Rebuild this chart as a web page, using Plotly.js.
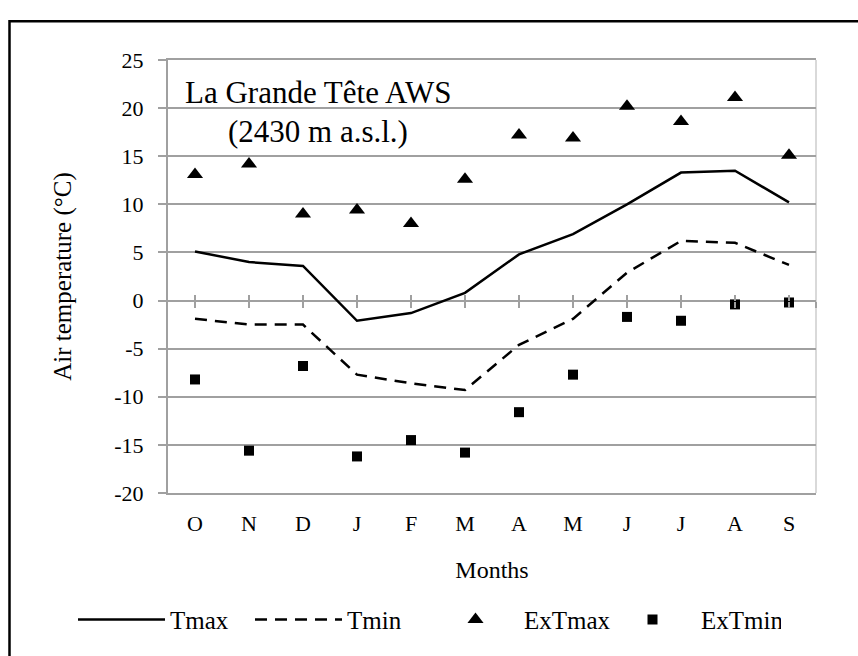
<!DOCTYPE html>
<html>
<head>
<meta charset="utf-8">
<script src="https://cdn.plot.ly/plotly-3.0.1.min.js"></script>
<style>
  html, body { margin: 0; padding: 0; background: #ffffff; }
  #chart { width: 858px; height: 656px; }
</style>
</head>
<body>
<div id="chart"></div>
<script>
// ---- data ----
var months = ['O', 'N', 'D', 'J', 'F', 'M', 'A', 'M', 'J', 'J', 'A', 'S'];
var tmax   = [5.1, 4.0, 3.6, -2.1, -1.3, 0.8, 4.8, 6.9, 10.0, 13.3, 13.5, 10.2];
var tmin   = [-1.9, -2.5, -2.5, -7.7, -8.6, -9.3, -4.6, -1.9, 2.9, 6.2, 6.0, 3.7];
var exTmax = [13.1, 14.2, 9.0, 9.4, 8.0, 12.6, 17.2, 16.9, 20.2, 18.6, 21.1, 15.1];
var exTmin = [-8.2, -15.6, -6.8, -16.2, -14.5, -15.8, -11.6, -7.7, -1.7, -2.1, -0.4, -0.2];
var yTickVals = [-20, -15, -10, -5, 0, 5, 10, 15, 20, 25];
var yTickText = ['-20', '-15', '-10', '-5', '0', '5', '10', '15', '20', '25'];
var stationName = 'La Grande Tête AWS';
var stationAlt = '(2430 m a.s.l.)';

// ---- derived ----
var xIdx = months.map(function (m, i) { return i; });
var xRange = [-0.5, months.length - 0.5];
var crossTicks = xIdx.concat([months.length - 0.5]);

var FONT = '"Liberation Serif", "Times New Roman", serif';
var GRID = '#a0a0a0';

var traces = [
  { x: xIdx, y: tmax, name: 'Tmax', type: 'scatter', mode: 'lines',
    line: { color: '#000000', width: 2.5 } },
  { x: xIdx, y: tmin, name: 'Tmin', type: 'scatter', mode: 'lines',
    line: { color: '#000000', width: 2.5, dash: '12px,8px' } },
  { x: xIdx, y: exTmax, name: 'ExTmax', type: 'scatter', mode: 'markers',
    marker: { symbol: 'triangle-up', size: 14, color: '#000000' } },
  { x: xIdx, y: exTmin, name: 'ExTmin', type: 'scatter', mode: 'markers',
    marker: { symbol: 'square', size: 10, color: '#000000' } },
  { x: [], y: [], xaxis: 'x2', showlegend: false, hoverinfo: 'skip', type: 'scatter' },
  { x: [], y: [], xaxis: 'x3', showlegend: false, hoverinfo: 'skip', type: 'scatter' }
];

var zeroPos = (0 - (-20)) / (25 - (-20));

var layout = {
  width: 858, height: 656,
  margin: { l: 168, r: 42, t: 60, b: 163, pad: 0 },
  paper_bgcolor: '#ffffff', plot_bgcolor: '#ffffff',
  font: { family: FONT, color: '#000000', size: 22 },
  showlegend: true,
  legend: {
    orientation: 'h', x: -0.1466, xanchor: 'left', y: -0.293, yanchor: 'middle',
    font: { family: FONT, size: 25, color: '#000000' },
    itemwidth: 87, entrywidth: 75, entrywidthmode: 'pixels',
    bgcolor: 'rgba(0,0,0,0)', traceorder: 'normal'
  },
  xaxis: {
    range: xRange, tickvals: xIdx, ticktext: months, ticks: '',
    showgrid: false, zeroline: false, showline: true, mirror: true,
    linecolor: GRID, linewidth: 2, ticklabelstandoff: 10,
    tickfont: { family: FONT, size: 22, color: '#000000' },
    title: { text: 'Months', standoff: 26, font: { family: FONT, size: 24, color: '#000000' } },
    fixedrange: true
  },
  xaxis2: {
    overlaying: 'x', anchor: 'free', position: zeroPos, range: xRange,
    tickvals: crossTicks, ticks: 'inside', ticklen: 6, tickwidth: 2, tickcolor: GRID,
    showticklabels: false, showgrid: false, zeroline: false, showline: false
  },
  xaxis3: {
    overlaying: 'x', anchor: 'free', position: zeroPos, range: xRange,
    tickvals: crossTicks, ticks: 'outside', ticklen: 6, tickwidth: 2, tickcolor: GRID,
    showticklabels: false, showgrid: false, zeroline: false, showline: false
  },
  yaxis: {
    range: [-20, 25], tickvals: yTickVals, ticktext: yTickText,
    ticks: 'outside', ticklen: 8, tickwidth: 2, tickcolor: GRID,
    showgrid: true, gridcolor: GRID, gridwidth: 2,
    zeroline: true, zerolinecolor: GRID, zerolinewidth: 2,
    showline: true, linecolor: GRID, linewidth: 2, ticklabelstandoff: 10,
    tickfont: { family: FONT, size: 22, color: '#000000' },
    title: { text: 'Air temperature (°C)', standoff: 36, font: { family: FONT, size: 25, color: '#000000' } },
    fixedrange: true
  },
  annotations: [
    { xref: 'paper', yref: 'paper', x: 0.2315, y: 0.925, xanchor: 'center', yanchor: 'middle',
      text: stationName, showarrow: false, font: { family: FONT, size: 31, color: '#000000' } },
    { xref: 'paper', yref: 'paper', x: 0.2315, y: 0.836, xanchor: 'center', yanchor: 'middle',
      text: stationAlt, showarrow: false, font: { family: FONT, size: 31, color: '#000000' } }
  ],
  shapes: [
    { type: 'line', xref: 'paper', yref: 'paper', x0: 1, x1: 1, y0: 0, y1: 1,
      line: { color: '#d9d9d9', width: 2 }, layer: 'below' },
    { type: 'rect', xref: 'paper', yref: 'paper', x0: -0.2446, x1: 1.3, y0: -0.6, y1: 1.0894,
      line: { color: '#000000', width: 2.5 }, fillcolor: 'rgba(0,0,0,0)', layer: 'above' }
  ]
};

Plotly.newPlot('chart', traces, layout, { staticPlot: true, displayModeBar: false });
</script>
</body>
</html>
